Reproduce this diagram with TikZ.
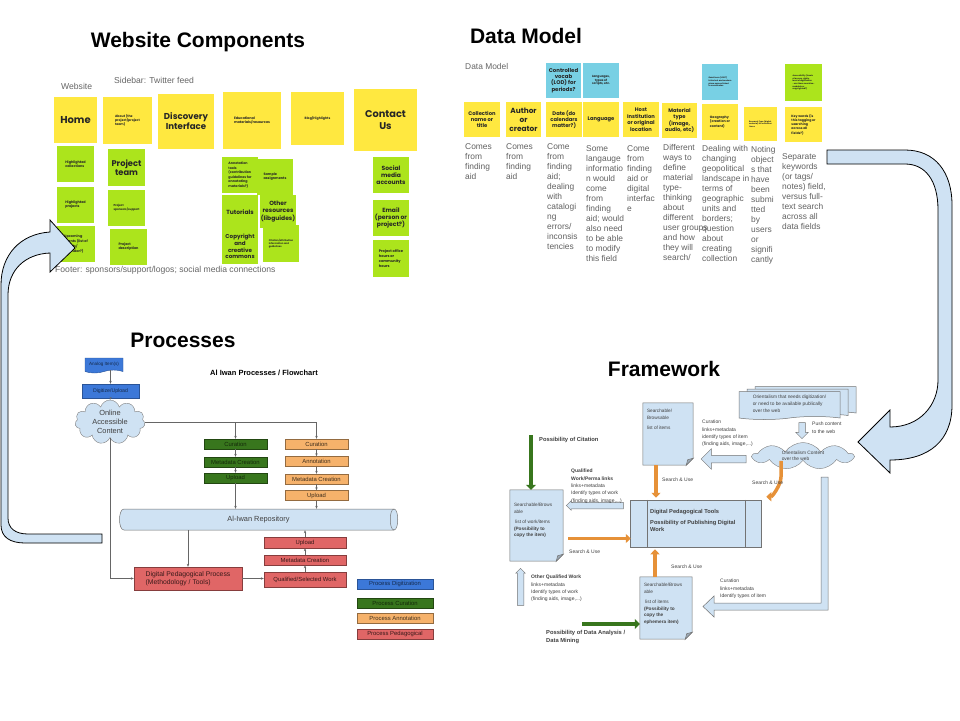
\documentclass[tikz,border=0pt]{standalone}
\usepackage{fontspec}
\setmainfont{Liberation Sans}
\newfontfamily\notefont{Poppins}
\usetikzlibrary{shapes.geometric,shapes.symbols,shapes.arrows,arrows.meta,backgrounds}

\newcommand{\fsz}[2]{\fontsize{#1}{#2}\selectfont}
\newcommand{\nf}[2]{\notefont\bfseries\fontsize{#1}{#2}\selectfont}

\definecolor{noteyellow}{RGB}{255,232,64}
\definecolor{notelime}{RGB}{172,228,28}
\definecolor{notecyan}{RGB}{120,208,228}
\definecolor{paleblue}{RGB}{207,226,243}
\definecolor{digiblue}{RGB}{60,120,216}
\definecolor{curgreen}{RGB}{56,118,29}
\definecolor{annorange}{RGB}{246,178,107}
\definecolor{pedred}{RGB}{224,102,102}
\definecolor{useorange}{RGB}{230,145,56}

\tikzset{
  sz/.style 2 args={minimum width=#1pt, minimum height=#2pt},
  sticky/.style={inner sep=1pt, align=center, text=black!85},
  ynote/.style={sticky, fill=noteyellow},
  gnote/.style={sticky, fill=notelime},
  cnote/.style={sticky, fill=notecyan},
  title/.style={font=\fsz{21}{24}\bfseries, inner sep=0pt},
  graytxt/.style={font=\fsz{8.6}{10}, text=black!60, inner sep=0pt, anchor=west},
  coltxt/.style={font=\fsz{8.4}{10}, text=black!62, inner sep=0pt, anchor=north west, align=left},
  procbox/.style={draw, inner sep=0pt, font=\fsz{5.9}{7}, sz={63}{10}},
  digibox/.style={procbox, fill=digiblue, draw=digiblue!70!black, text=digiblue!35!black},
  curbox/.style={procbox, fill=curgreen, draw=curgreen!60!black, text=curgreen!35!black},
  annbox/.style={procbox, fill=annorange, draw=annorange!60!black, text=annorange!25!black},
  pedbox/.style={procbox, fill=pedred, draw=pedred!60!black, text=pedred!25!black},
  flow/.style={draw=black!60, line width=0.5pt, -{Stealth[length=3pt,width=2.4pt]}},
  fwtxt/.style={font=\fsz{5}{7.3}, text=black!75, inner sep=0pt, anchor=north west, align=left},
  docbox/.style={inner sep=0pt},
  doclbl/.style={font=\fsz{4.7}{6.6}, text=black!75, inner sep=0pt, anchor=north west, align=left},
  docline/.style={draw=black!55, fill=paleblue, line width=0.5pt},
  outarrow/.style={single arrow, draw=black!55, fill=paleblue, line width=0.5pt, single arrow head indent=0pt},
  usearrow/.style={draw=useorange, line width=3.5pt, -{Triangle[length=5pt,width=9pt]}},
  minearrow/.style={draw=curgreen, line width=4.5pt, -{Triangle[length=5pt,width=10pt]}},
  bigarrow/.style={fill=paleblue, draw=black, line width=0.8pt, line join=miter},
  stackdoc/.style={shape=tape, tape bend top=none, tape bend bottom=in and out, tape bend height=3pt,
    draw=black!55, fill=paleblue, line width=0.5pt, sz={101}{28}},
}

\begin{document}
\begin{tikzpicture}[x=1pt,y=-1pt]
\useasboundingbox (0,0) rectangle (960,720);
\begin{scope}[on background layer]
\fill[white] (0,0) rectangle (960,720);
\end{scope}

% titles
\node[title] (ttlweb) at (198,42) {Website Components};
\node[title] (ttldata) at (526,36) {Data Model};
\node[title] (ttlproc) at (183,340) {Processes};
\node[title] (ttlfw) at (664,369) {Framework};

% ---- website components
\node[graytxt] (lblweb) at (61,86) {Website};
\node[graytxt] (lblside) at (114,80) {Sidebar: Twitter feed};
\node[graytxt] (lblfoot) at (55,270) {Footer: sponsors/support/logos; social media connections};

\node[ynote, sz={43}{46}, font=\nf{10}{11}] (home) at (75.5,120) {Home};
\node[ynote, sz={49}{47}, font=\nf{3.2}{3.9}, align=left] (about) at (127.5,120.5) {About (the\\project/project\\team)};
\node[ynote, sz={56}{55}, font=\nf{8.6}{10}] (discovery) at (186,121.5) {Discovery\\Interface};
\node[ynote, sz={58}{57}, font=\nf{3.4}{4}, align=left] (educ) at (252,120.5) {Educational\\materials/resources};
\node[ynote, sz={53}{53}, font=\nf{3.2}{4}] (blog) at (317.5,118.5) {Blog/Highlights};
\node[ynote, sz={63}{62}, font=\nf{9.8}{11.5}] (contact) at (385.5,120) {Contact\\Us};

\node[gnote, sz={37}{36}, font=\nf{3.4}{4}, align=left] (hlcoll) at (75.5,164) {Highlighted\\collections};
\node[gnote, sz={37}{36}, font=\nf{3.4}{4}, align=left] (hlproj) at (75.5,205) {Highlighted\\projects};
\node[gnote, sz={38}{36}, font=\nf{3.4}{5}, align=left] (upcoming) at (76,244) {Upcoming\\events (list of\\events/\\calendar?)};
\node[gnote, sz={37}{37}, font=\nf{8.3}{9.5}] (projteam) at (126.5,167.5) {Project\\team};
\node[gnote, sz={37}{36}, font=\nf{2.8}{3.4}, align=left] (projsupport) at (126.5,208) {Project\\sponsors/support};
\node[gnote, sz={37}{36}, font=\nf{3.4}{4}, align=left] (projdesc) at (128.5,247) {Project\\description};
\node[gnote, sz={36}{36}, font=\nf{3.4}{4}, align=left] (sample) at (275,177) {Sample\\assignments};
\node[gnote, sz={36}{36}, font=\nf{3.3}{4.5}, align=left] (annot) at (240,175) {Annotation\\tools\\(contribution\\guidelines for\\annotating\\materials?)};
\node[gnote, sz={36}{35}, font=\nf{6}{7}] (tutorials) at (240,212.5) {Tutorials};
\node[gnote, sz={36}{33}, font=\nf{6}{7.2}] (otherres) at (278,211.5) {Other\\resources\\(libguides)};
\node[gnote, sz={36}{35}, font=\nf{5.6}{6.8}] (copyright) at (240,246.5) {Copyright\\and\\creative\\commons};
\node[gnote, sz={36}{37}, font=\nf{2.4}{3}, align=left] (citation) at (281,243.5) {Citation/attribution\\information and\\guidelines};
\node[gnote, sz={36}{36}, font=\nf{6}{7.2}] (social) at (391,175) {Social\\media\\accounts};
\node[gnote, sz={36}{36}, font=\nf{6}{7.2}] (email) at (391,218) {Email\\(person or\\project?)};
\node[gnote, sz={36}{37}, font=\nf{3.6}{4.8}, align=left] (office) at (391,258.5) {Project office\\hours or\\community\\hours};

% ---- data model
\node[graytxt, font=\fsz{8.4}{10}] (lbldata) at (465,66) {Data Model};

\node[cnote, sz={35}{35}, font=\nf{5.4}{6.2}] (cvocab) at (563.5,80.5) {Controlled\\vocab\\(LOD) for\\periods?};
\node[cnote, sz={36}{35}, font=\nf{3}{3.8}] (langs) at (601,80.5) {Languages,\\types of\\scripts, etc.};
\node[cnote, sz={36}{36}, font=\nf{2}{2.7}, align=left] (geonote) at (720,82) {Gazetteers (LOD?)\\historical and modern\\place names linked\\to coordinates};
\node[gnote, sz={37}{37}, font=\nf{2}{2.7}, align=left] (access) at (803.5,82.5) {Accessibility (levels\\of access, rights,\\level of digitization\\- are these machine-\\readable or\\copyrighted?)};

\node[ynote, sz={36}{35}, font=\nf{5.2}{5.6}] (collname) at (482,119.5) {Collection\\name or\\title};
\node[ynote, sz={35}{35}, font=\nf{7.4}{9.2}] (author) at (523.5,119.5) {Author\\or\\creator};
\node[ynote, sz={36}{35}, font=\nf{5.2}{6}] (date) at (564,119.5) {Date (do\\calendars\\matter?)};
\node[ynote, sz={36}{35}, font=\nf{5.2}{6}] (language) at (601,119.5) {Language};
\node[ynote, sz={36}{35}, font=\nf{5.2}{6.6}] (host) at (641,119.5) {Host\\Institution\\or original\\location};
\node[ynote, sz={35}{35}, font=\nf{5.2}{6.6}] (material) at (679.5,120.5) {Material\\type\\(image,\\audio, etc)};
\node[ynote, sz={36}{36}, font=\nf{3.3}{4.2}, align=left] (geography) at (720,122) {Geography\\(creation or\\content)};
\node[ynote, sz={33}{34}, font=\nf{1.9}{2.6}, align=left] (research) at (760.5,124) {Research Type (digital,\\material) for collection\\items};
\node[ynote, sz={37}{35}, font=\nf{3.2}{4.2}, align=left] (keywords) at (803.5,124.5) {Key words (is\\this tagging or\\searching\\across all\\fields?)};

\node[coltxt] (dmc1) at (465,143) {Comes\\from\\finding\\aid};
\node[coltxt] (dmc2) at (506,143) {Comes\\from\\finding\\aid};
\node[coltxt] (dmc3) at (547,143) {Come\\from\\finding\\aid;\\dealing\\with\\catalogi\\ng\\errors/\\inconsis\\tencies};
\node[coltxt] (dmc4) at (586,145) {Some\\langauge\\informatio\\n would\\come\\from\\finding\\aid; would\\also need\\to be able\\to modify\\this field};
\node[coltxt] (dmc5) at (627,145) {Come\\from\\finding\\aid or\\digital\\interfac\\e};
\node[coltxt] (dmc6) at (663,144) {Different\\ways to\\define\\material\\type-\\thinking\\about\\different\\user groups\\and how\\they will\\search/};
\node[coltxt] (dmc7) at (702,145) {Dealing with\\changing\\geopolitical\\landscape in\\terms of\\geographic\\units and\\borders;\\question\\about\\creating\\collection};
\node[coltxt] (dmc8) at (751,146) {Noting\\object\\s that\\have\\been\\submi\\tted\\by\\users\\or\\signifi\\cantly};
\node[coltxt] (dmc9) at (782,153) {Separate\\keywords\\(or tags/\\notes) field,\\versus full-\\text search\\across all\\data fields};

% ---- processes
\node[font=\fsz{7.5}{9}\bfseries, inner sep=0pt] (flowttl) at (264,373) {Al Iwan Processes / Flowchart};

\node[digibox, shape=tape, tape bend top=none, tape bend height=3pt, sz={38}{15}, font=\fsz{4.6}{6}] (analog) at (104,364) {Analog Item(s)};
\node[digibox, sz={57}{14}, font=\fsz{5.2}{6}] (digitize) at (110.5,391) {Digitize/Upload};
\node[cloud, cloud puffs=11, cloud ignores aspect, draw=black!50, fill=paleblue, sz={70}{44}, inner sep=0pt,
      align=center, font=\fsz{7.4}{8.8}, text=black!75] (online) at (110,422) {Online\\Accessible\\Content};

\node[curbox] (gcur) at (235.5,444) {Curation};
\node[curbox] (gmeta) at (235.5,462) {Metadata Creation};
\node[curbox] (gup) at (235.5,478) {Upload};
\node[annbox] (ocur) at (316.5,444) {Curation};
\node[annbox] (oann) at (316.5,461.5) {Annotation};
\node[annbox] (ometa) at (316.5,479) {Metadata Creation};
\node[annbox] (oup) at (316.5,495.5) {Upload};

% repository drawn as a lying cylinder
\draw[docline] (124,509) -- (394,509) .. controls (399,509) and (399,530) .. (394,530) -- (124,530)
  .. controls (118,530) and (118,509) .. (124,509) -- cycle;
\draw[black!55, line width=0.5pt] (394,509) .. controls (389,509) and (389,530) .. (394,530);
\node[inner sep=0pt, sz={277}{21}, font=\fsz{7.4}{9}, text=black!75] (repo) at (258.5,519.5) {Al-Iwan Repository};

\node[pedbox, sz={108}{23}, font=\fsz{6.8}{8.4}, align=left] (pedproc) at (188,578.5) {Digital Pedagogical Process\\(Methodology / Tools)};
\node[pedbox, sz={82}{11}] (rup) at (305,542.5) {Upload};
\node[pedbox, sz={82}{10}] (rmeta) at (305,560) {Metadata Creation};
\node[pedbox, sz={82}{15}] (qualified) at (305,579.5) {Qualified/Selected Work};

\node[digibox, sz={76}{10}] (legdig) at (395,584) {Process Digitization};
\node[curbox, sz={76}{10}] (legcur) at (395,603) {Process Curation};
\node[annbox, sz={76}{10}] (legann) at (395,618) {Process Annotation};
\node[pedbox, sz={76}{10}] (legped) at (395,634) {Process Pedagogical};

\draw[flow] (analog.south -| digitize.north) -- (digitize.north);
\draw[flow] (digitize.south) -- (online.north);
\draw[flow] (online.east) -| (ocur.north);
\draw[flow] (gcur.north |- online.east) -- (gcur.north);
\draw[flow] (gcur.south) -- (gmeta.north);
\draw[flow] (gmeta.south) -- (gup.north);
\draw[flow] (gup.south) -- (gup.south |- repo.north);
\draw[flow] (ocur.south) -- (oann.north);
\draw[flow] (oann.south) -- (ometa.north);
\draw[flow] (ometa.south) -- (oup.north);
\draw[flow] (oup.south) -- (oup.south |- repo.north);
\draw[flow] (online.south) |- (pedproc.west);
\draw[flow] (repo.south -| pedproc.north) -- (pedproc.north);
\draw[flow] (pedproc.east) -- (pedproc.east -| qualified.west);
\draw[flow] (qualified.north) -- (rmeta.south);
\draw[flow] (rmeta.north) -- (rup.south);
\draw[flow] (rup.north) -- (rup.north |- repo.south);

% ---- framework
\node[stackdoc] (orient3) at (805.5,399) {};
\node[stackdoc] (orient2) at (797.5,401.5) {};
\node[stackdoc, align=left, font=\fsz{4.8}{7}, text=black!75] (orient) at (789.5,404) {Orientalism that needs digitization/\\or need to be available publically\\over the web};
\node[outarrow, shape border rotate=270, sz={12}{16}, inner sep=3pt, single arrow head extend=3pt] (push) at (802,429) {};
\node[fwtxt] (pushtxt) at (812,422) {Push content\\to the web};
\node[cloud, cloud puffs=9, cloud puff arc=110, cloud ignores aspect, draw=black!50, fill=paleblue, sz={100}{27}, inner sep=0pt,
      align=left, font=\fsz{4.8}{6.5}, text=black!75] (webcloud) at (803,456) {Orientalism Content\\over the web};

\node[outarrow, shape border rotate=180, sz={20}{45}, inner sep=3.5pt, single arrow head extend=6.5pt] (curarrow) at (725.5,459) {};
\node[fwtxt] (curtop) at (702,420) {Curation\\links+metadata\\identify types of item\\(finding aids, image,...)};

\node[docbox, sz={50}{62}, label={[doclbl, xshift=4pt, yshift=-6pt]north west:{Searchable/\\Browsable\\[4pt]list of items}}] (srch) at (668,434) {};
\node[docbox, sz={53}{71}, label={[doclbl, xshift=4pt, yshift=-13pt]north west:{Searchable/Brows\\able\\[4pt]\ list of work/items\\\textbf{(Possibility to}\\\textbf{copy the item)}}}] (srchl) at (536.5,525.5) {};
\node[docbox, sz={52}{62}, label={[doclbl, xshift=4pt, yshift=-6pt]north west:{Searchable/Brows\\able\\[4pt]\ list of items\\\textbf{(Possibility to}\\\textbf{copy the}\\\textbf{ephemera item)}}}] (srchb) at (666,608) {};

\begin{scope}[on background layer]
\foreach \d in {srch,srchl,srchb}{
  \draw[docline] (\d.north west) -- (\d.north east) -- ([yshift=7pt]\d.south east)
    -- ([xshift=-7pt]\d.south east) -- (\d.south west) -- cycle;
  \draw[docline, fill=paleblue!75!black] ([yshift=7pt]\d.south east) -- ([xshift=-7pt]\d.south east)
    -- ([xshift=-5.5pt,yshift=5.5pt]\d.south east) -- cycle;
}
\end{scope}

\node[draw=black!55, fill=paleblue, line width=0.5pt, sz={131}{47}, inner sep=0pt] (dpt) at (695.5,523.5) {};
\draw[black!55, line width=0.5pt] ([xshift=17pt]dpt.north west) -- ([xshift=17pt]dpt.south west);
\draw[black!55, line width=0.5pt] ([xshift=-16pt]dpt.north east) -- ([xshift=-16pt]dpt.south east);
\node[fwtxt, font=\fsz{5.7}{7.3}\bfseries] (dpttxt) at (650,509) {Digital Pedagogical Tools\\[4pt]Possibility of Publishing Digital\\Work};

\draw[usearrow, shorten >=2pt] ([xshift=-12pt]srch.south) -- ([xshift=-12pt]srch.south |- dpt.north);
\node[fwtxt] (usetop) at (662,478) {Search \& Use};
\draw[usearrow] ([xshift=-22pt]webcloud.south) -- ++(0,16) .. controls +(0,8) and +(6,0) .. ([xshift=5pt,yshift=3pt]dpt.north east);
\node[fwtxt] (usecurve) at (752,481) {Search \& Use};

\coordinate (citetop) at (531,435);
\draw[minearrow] (citetop) -- (citetop |- srchl.north);
\node[fwtxt, font=\fsz{5.8}{7}\bfseries] (citetxt) at (539,437) {Possibility of Citation};

\node[outarrow, shape border rotate=180, sz={9}{57}, inner sep=3pt, single arrow head extend=1.5pt] (qualarrow) at (596.5,505.5) {};
\node[fwtxt] (qualtxt) at (571,469) {\textbf{Qualified}\\\textbf{Work/Perma links}\\links+metadata\\Identify types of work\\(finding aids, image,...)};

\draw[usearrow, shorten >=4pt] ([shift={(5pt,-13pt)}]srchl.east) -- ([shift={(5pt,-13pt)}]srchl.east -| dpt.west);
\node[fwtxt] (useleft) at (569,550) {Search \& Use};

\draw[usearrow, shorten >=2pt] ([xshift=-11pt]srchb.north) -- ([xshift=-11pt]srchb.north |- dpt.south);
\node[fwtxt] (usebot) at (671,565) {Search \& Use};

\node[outarrow, shape border rotate=90, sz={9}{37}, inner sep=3pt, single arrow head extend=1.5pt] (otherarrow) at (520.5,588.5) {};
\node[fwtxt] (othertxt) at (531,575) {\textbf{Other Qualified Work}\\links+metadata\\Identify types of work\\(finding aids, image,...)};

\coordinate (minestart) at (582,624);
\draw[minearrow] (minestart) -- (minestart -| srchb.west);
\node[fwtxt, font=\fsz{5.8}{7.6}\bfseries] (minetxt) at (546,630) {Possibility of Data Analysis /\\Data Mining};

% L-shaped curation arrow back to the ephemera list
\draw[docline, line join=miter] (821,477) -- (828,477) -- (828,610) -- (714,610) -- (714,617) -- (703,606.5)
  -- (714,596) -- (714,603) -- (821,603) -- cycle;
\node[fwtxt] (curbot) at (720,579) {Curation\\links+metadata\\Identify types of item};

% ---- big arrows between the panels
\draw[bigarrow] (50,232) .. controls (20,234) and (1,255) .. (1,285) -- (1,525)
  .. controls (1,537) and (10,543) .. (25,543) -- (102,543) -- (102,534) -- (28,534)
  .. controls (15,534) and (8,528) .. (8,518) -- (8,295) .. controls (8,270) and (25,254) .. (50,253)
  -- (50,272) -- (75,248) -- (50,220) -- cycle;
\draw[bigarrow] (827,150) -- (905,150) .. controls (935,150) and (952,172) .. (952,205) -- (952,405)
  .. controls (952,440) and (930,460) .. (890,460) -- (890,473) -- (858,442) -- (890,410) -- (890,427)
  .. controls (920,427) and (938,405) .. (938,380) -- (938,210) .. controls (938,180) and (925,164) .. (905,164)
  -- (827,164) -- cycle;

\end{tikzpicture}
\end{document}
